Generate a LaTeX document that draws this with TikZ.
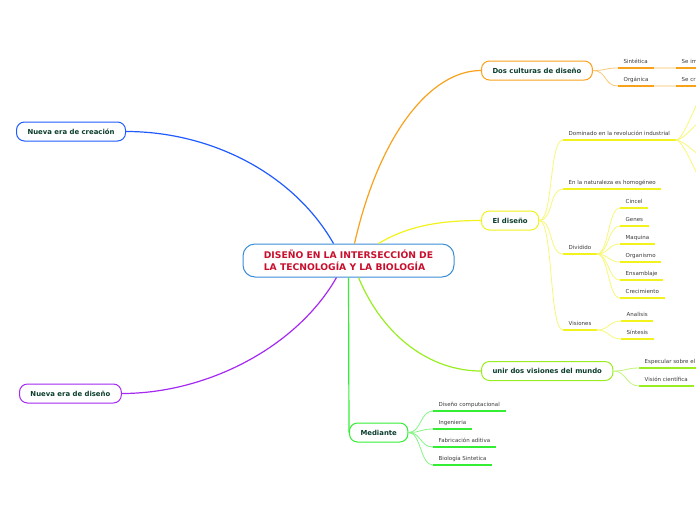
\documentclass[tikz,border=0pt]{standalone}
\usepackage{fontspec}
\setmainfont{DejaVu Sans}
\definecolor{TitleRed}{HTML}{C8102E}
\definecolor{CenterBlue}{HTML}{3A8ED8}
\definecolor{NodeText}{HTML}{0B3D2E}
\definecolor{LeafText}{HTML}{3A3A3A}
\definecolor{BranchBlue}{HTML}{1F5BFF}
\definecolor{BranchPurple}{HTML}{A529F2}
\definecolor{BranchOrange}{HTML}{F8A21C}
\definecolor{BranchYellow}{HTML}{F2F21C}
\definecolor{BranchLime}{HTML}{99EE22}
\definecolor{BranchGreen}{HTML}{33EE33}
\usetikzlibrary{arrows.meta, positioning}
\tikzset{
  topic/.style={draw=#1, line width=1pt, rounded corners=8pt, fill=white, anchor=west, minimum height=19pt, inner xsep=11pt, text=NodeText, font=\fontsize{6.9pt}{8pt}\selectfont\bfseries},
  leaf/.style={anchor=south west, inner xsep=5.5pt, inner ysep=3pt, text height=4pt, text depth=1.2pt, text=LeafText, font=\fontsize{5.5pt}{6.5pt}\selectfont},
  branch/.style={draw=#1, line width=1.2pt},
  twig/.style={draw=#1, line width=0.8pt},
  uline/.style={draw=#1, line width=2pt}
}

\begin{document}
\begin{tikzpicture}[x=1pt, y=-1pt]
\useasboundingbox (0,0) rectangle (696,520);

\node[draw=CenterBlue, line width=1pt, rounded corners=12pt, fill=white, minimum width=211pt, minimum height=33pt, align=left, text=TitleRed, font=\fontsize{9.2pt}{12pt}\selectfont\bfseries] (ctr) at (348.5,260.5) {DISEÑO EN LA INTERSECCIÓN DE\\LA TECNOLOGÍA Y LA BIOLOGÍA};

\node[topic=BranchBlue] (crea) at (16,131.5) {Nueva era de creación};
\node[topic=BranchPurple] (nuevadis) at (19,393.5) {Nueva era de diseño};
\node[topic=BranchOrange] (dos) at (481,70.5) {Dos culturas de diseño};
\node[topic=BranchYellow] (eldis) at (481,220.5) {El diseño};
\node[topic=BranchLime] (unir) at (481,371) {unir dos visiones del mundo};
\node[topic=BranchGreen] (med) at (349,432.5) {Mediante};

\draw[branch=BranchBlue] ([xshift=-15pt]ctr.north) .. controls +(-40,-70) and +(85,0) .. (crea.east);
\draw[branch=BranchPurple] ([xshift=-12pt]ctr.south) .. controls +(-40,70) and +(85,0) .. (nuevadis.east);
\draw[branch=BranchOrange] ([xshift=6pt]ctr.north) .. controls +(25,-110) and +(-50,0) .. (dos.west);
\draw[branch=BranchYellow] ([xshift=30pt]ctr.north) .. controls +(30,-18) and +(-40,0) .. (eldis.west);
\draw[branch=BranchLime] ([xshift=10pt]ctr.south) .. controls +(25,60) and +(-50,0) .. (unir.west);
\draw[branch=BranchGreen] (ctr.south) -- (med.west);

% Dos culturas de diseño
\node[leaf] (sint) at (618,68) {Sintética};
\node[leaf] (org) at (618,86) {Orgánica};
\node[leaf] (seim) at (676,68) {Se im};
\node[leaf] (secr) at (676,86) {Se cr};
\foreach \n in {sint,org}
  \draw[twig=BranchOrange!60] (dos.east) .. controls +(14,0) and +(-14,0) .. (\n.south west);
\draw[uline=BranchOrange!25] (sint.south east) -- (seim.south west);
\draw[uline=BranchOrange!25] (org.south east) -- (secr.south west);
\foreach \n in {sint,org,seim,secr}
  \draw[uline=BranchOrange] (\n.south west) -- (\n.south east);

% El diseño
\node[leaf] (domin) at (563,140) {Dominado en la revolución industrial};
\node[leaf] (natur) at (563,189) {En la naturaleza es homogéneo};
\node[leaf] (divid) at (563,254) {Dividido};
\node[leaf] (vision) at (563,330) {Visiones};
\foreach \n in {domin,natur,divid,vision} {
  \draw[twig=BranchYellow!60] (eldis.east) .. controls +(14,0) and +(-14,0) .. (\n.south west);
  \draw[uline=BranchYellow] (\n.south west) -- (\n.south east);
}
\foreach \y/\n in {86/d1,116/d2,160/d3,190/d4} {
  \coordinate (\n) at (710,\y);
  \draw[twig=BranchYellow!60] (domin.south east) .. controls +(10,0) and +(-10,0) .. (\n);
}
\foreach \y/\n/\t in {208/cincel/Cincel, 226/genes/Genes, 244/maquina/Maquina, 262/organ/Organismo, 280/ensam/Ensamblaje, 298/crec/Crecimiento} {
  \node[leaf] (\n) at (620,\y) {\t};
  \draw[twig=BranchYellow!60] (divid.south east) .. controls +(12,0) and +(-12,0) .. (\n.south west);
  \draw[uline=BranchYellow] (\n.south west) -- (\n.south east);
}
\foreach \y/\n/\t in {321/analis/Analisis, 339/sintes/Síntesis} {
  \node[leaf] (\n) at (621,\y) {\t};
  \draw[twig=BranchYellow!60] (vision.south east) .. controls +(12,0) and +(-12,0) .. (\n.south west);
  \draw[uline=BranchYellow] (\n.south west) -- (\n.south east);
}

% unir dos visiones del mundo
\foreach \y/\n/\t in {368/espec/Especular sobre el, 386/viscien/Visión científica} {
  \node[leaf] (\n) at (639,\y) {\t};
  \draw[twig=BranchLime!60] (unir.east) .. controls +(13,0) and +(-13,0) .. (\n.south west);
  \draw[uline=BranchLime] (\n.south west) -- (\n.south east);
}

% Mediante
\foreach \y/\n/\t in {411/dcomp/Diseño computacional, 429/ingen/Ingenieria, 447/fabri/Fabricación aditiva, 465/biosin/Biología Sintetica} {
  \node[leaf] (\n) at (433,\y) {\t};
  \draw[twig=BranchGreen!60] (med.east) .. controls +(13,0) and +(-13,0) .. (\n.south west);
  \draw[uline=BranchGreen] (\n.south west) -- (\n.south east);
}
\end{tikzpicture}
\end{document}
